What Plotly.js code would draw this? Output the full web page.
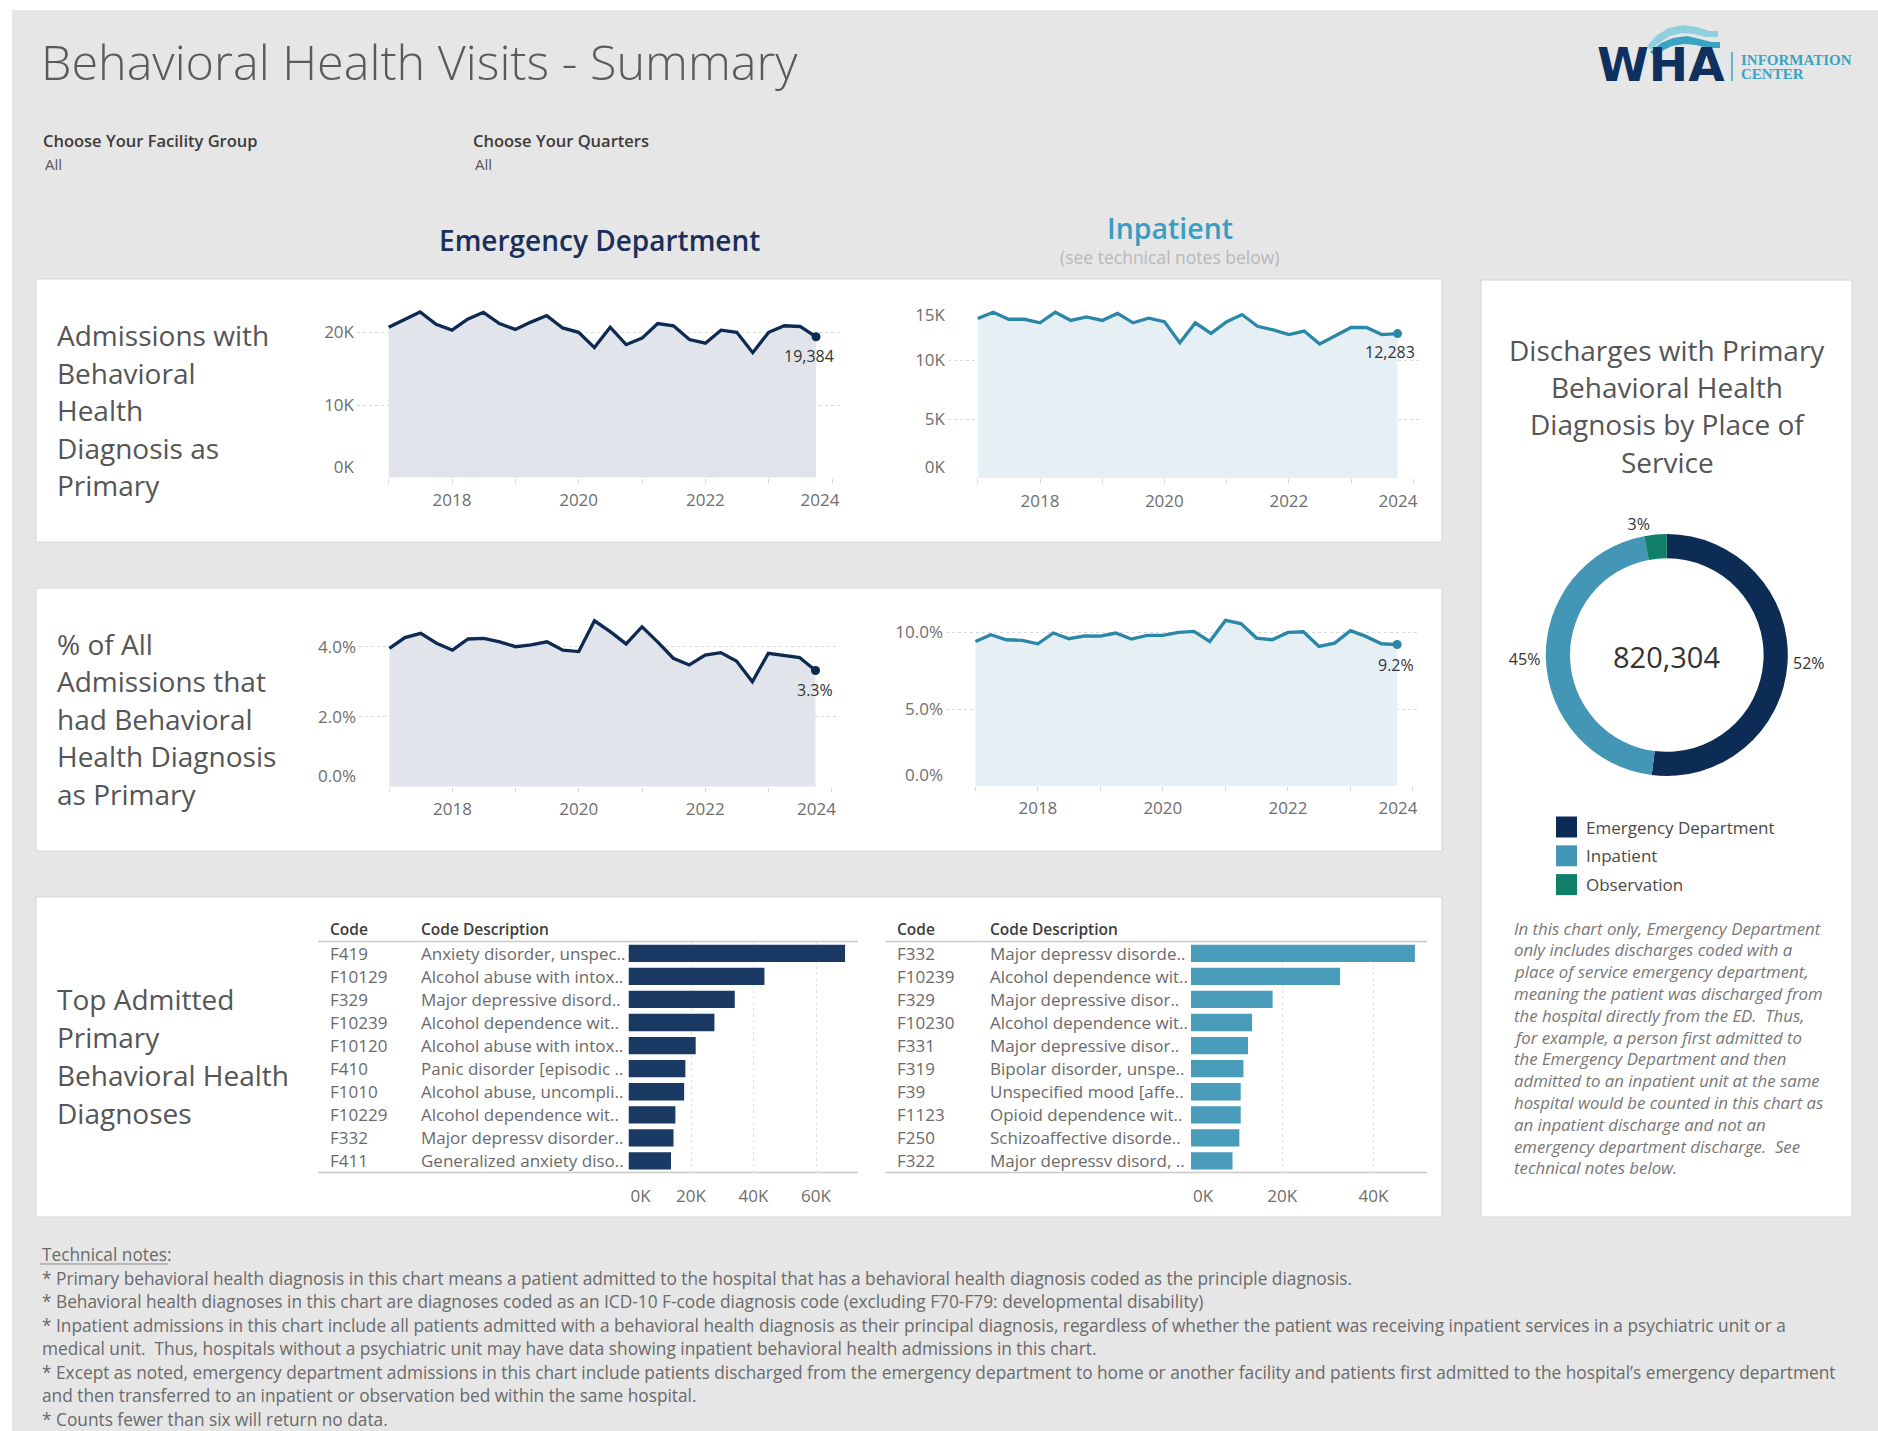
<!DOCTYPE html>
<html><head><meta charset="utf-8">
<script src="https://cdn.plot.ly/plotly-3.0.1.min.js"></script>
<style>html,body{margin:0;padding:0;background:#fff;}#chart{width:1878px;height:1431px;}</style>
</head><body><div id="chart"></div>
<script>
// ---------------- DATA ----------------
const quarters = ['2017-01-01','2017-04-01','2017-07-01','2017-10-01',
  '2018-01-01','2018-04-01','2018-07-01','2018-10-01',
  '2019-01-01','2019-04-01','2019-07-01','2019-10-01',
  '2020-01-01','2020-04-01','2020-07-01','2020-10-01',
  '2021-01-01','2021-04-01','2021-07-01','2021-10-01',
  '2022-01-01','2022-04-01','2022-07-01','2022-10-01',
  '2023-01-01','2023-04-01','2023-07-01','2023-10-01'];
const edAdmissions = [20700,21800,22800,21100,20300,21800,22750,21200,20400,21400,22300,20600,20000,17900,20700,18300,19200,21200,20900,19000,18500,20300,20000,17200,20000,20900,20800,19384];
const ipAdmissions = [13560,14100,13500,13500,13200,14100,13400,13700,13400,14000,13200,13600,13300,11500,13200,12300,13300,13900,12900,12600,12200,12500,11400,12100,12800,12800,12200,12283];
const edPct = [3.95,4.26,4.38,4.10,3.90,4.22,4.24,4.14,4.00,4.05,4.14,3.90,3.86,4.74,4.43,4.08,4.57,4.14,3.67,3.48,3.76,3.83,3.59,3.00,3.81,3.76,3.69,3.32];
const ipPct = [9.41,9.85,9.52,9.48,9.26,9.96,9.59,9.78,9.76,9.96,9.57,9.80,9.80,10.00,10.07,9.41,10.78,10.57,9.63,9.52,10.00,10.04,9.09,9.30,10.11,9.74,9.26,9.21];

const yearTicks = ['2018-01-01','2020-01-01','2022-01-01','2024-01-01'];
const yearTickLabels = ['2018','2020','2022','2024'];
const admTicksED = [0,10000,20000];
const admTickLabelsED = ['0K','10K','20K'];
const admTicksIP = [0,5000,10000,15000];
const admTickLabelsIP = ['0K','5K','10K','15K'];
const pctTicksED = [0,2,4];
const pctTickLabelsED = ['0.0%','2.0%','4.0%'];
const pctTicksIP = [0,5,10];
const pctTickLabelsIP = ['0.0%','5.0%','10.0%'];

const edCodes = ['F419','F10129','F329','F10239','F10120','F410','F1010','F10229','F332','F411'];
const edDescs = ['Anxiety disorder, unspec..','Alcohol abuse with intox..','Major depressive disord..','Alcohol dependence wit..','Alcohol abuse with intox..','Panic disorder [episodic ..','Alcohol abuse, uncompli..','Alcohol dependence wit..','Major depressv disorder..','Generalized anxiety diso..'];
const edCounts = [69300,43500,34000,27500,21500,18200,17800,15000,14400,13600];
const ipCodes = ['F332','F10239','F329','F10230','F331','F319','F39','F1123','F250','F322'];
const ipDescs = ['Major depressv disorde..','Alcohol dependence wit..','Major depressive disor..','Alcohol dependence wit..','Major depressive disor..','Bipolar disorder, unspe..','Unspecified mood [affe..','Opioid dependence wit..','Schizoaffective disorde..','Major depressv disord, ..'];
const ipCounts = [49100,32700,17900,13400,12500,11500,10900,10900,10600,9100];
const barTicksED = [0,20000,40000,60000];
const barTickLabelsED = ['0K','20K','40K','60K'];
const barTicksIP = [0,20000,40000];
const barTickLabelsIP = ['0K','20K','40K'];

const placeLabels = ['Emergency Department','Inpatient','Observation'];
const placeValues = [426500,369200,24604];
const placeColors = ['#0c2b55','#4496b7','#10806a'];

const panelLabels1 = ['Admissions with','Behavioral','Health','Diagnosis as','Primary'];
const panelLabels2 = ['% of All','Admissions that','had Behavioral','Health Diagnosis','as Primary'];
const panelLabels3 = ['Top Admitted','Primary','Behavioral Health','Diagnoses'];
const donutTitle = ['Discharges with Primary','Behavioral Health','Diagnosis by Place of','Service'];
const noteLines = ['In this chart only, Emergency Department','only includes discharges coded with a','place of service emergency department,','meaning the patient was discharged from','the hospital directly from the ED.  Thus,','for example, a person first admitted to','the Emergency Department and then','admitted to an inpatient unit at the same','hospital would be counted in this chart as','an inpatient discharge and not an','emergency department discharge.  See','technical notes below.'];
const techLines = ['* Primary behavioral health diagnosis in this chart means a patient admitted to the hospital that has a behavioral health diagnosis coded as the principle diagnosis.',
 '* Behavioral health diagnoses in this chart are diagnoses coded as an ICD-10 F-code diagnosis code (excluding F70-F79: developmental disability)',
 '* Inpatient admissions in this chart include all patients admitted with a behavioral health diagnosis as their principal diagnosis, regardless of whether the patient was receiving inpatient services in a psychiatric unit or a',
 'medical unit.  Thus, hospitals without a psychiatric unit may have data showing inpatient behavioral health admissions in this chart.',
 "* Except as noted, emergency department admissions in this chart include patients discharged from the emergency department to home or another facility and patients first admitted to the hospital\u2019s emergency department",
 'and then transferred to an inpatient or observation bed within the same hospital.',
 '* Counts fewer than six will return no data.'];

// ---------------- LAYOUT HELPERS ----------------
const W = 1878, H = 1431;
const fx = p => p / W;
const fy = p => 1 - p / H;
const FONT = "'Open Sans', 'DejaVu Sans', sans-serif";
const annotations = [];
const shapes = [];
function txt(x, y, text, size, color, opts) {
  opts = opts || {};
  annotations.push({xref:'paper', yref:'paper', x:fx(x), y:fy(y), text:text, showarrow:false,
    xanchor:opts.anchor || 'left', yanchor:'middle',
    font:{family:opts.family || FONT, size:size, color:color, weight:opts.weight || 400, style:opts.style || 'normal'}});
}
function rect(x0, y0, x1, y1, fill, line) {
  shapes.push({type:'rect', xref:'paper', yref:'paper', x0:fx(x0), x1:fx(x1), y0:fy(y1), y1:fy(y0),
    fillcolor:fill, line:line ? {color:line, width:1} : {width:0}, layer:'below'});
}
function hline(x0, x1, y, color, w) {
  shapes.push({type:'line', xref:'paper', yref:'paper', x0:fx(x0), x1:fx(x1), y0:fy(y), y1:fy(y), line:{color:color, width:w}, layer:'below'});
}
function poly(pts, color) {
  const d = pts.map((p, i) => (i ? 'L' : 'M') + fx(p[0]).toFixed(5) + ',' + fy(p[1]).toFixed(5)).join(' ') + ' Z';
  shapes.push({type:'path', xref:'paper', yref:'paper', path:d, fillcolor:color, line:{width:0}, layer:'above'});
}

// background & panels
rect(12, 10, W, H, '#e6e6e6');
rect(36, 279, 1442, 542, '#ffffff', '#d5d5d5');
rect(36, 588, 1442, 851, '#ffffff', '#d5d5d5');
rect(36, 897, 1442, 1217, '#ffffff', '#d5d5d5');
rect(1481, 280, 1852, 1217, '#ffffff', '#d5d5d5');

// header texts
txt(39, 61, 'Behavioral Health Visits - Summary', 48.5, '#5a5a5a', {weight:300});
txt(41, 140, 'Choose Your Facility Group', 16.5, '#3c3c3c', {weight:600});
txt(43, 164, 'All', 15, '#555');
txt(471, 140, 'Choose Your Quarters', 16.5, '#3c3c3c', {weight:600});
txt(473, 164, 'All', 15, '#555');
txt(599, 240, 'Emergency Department', 28, '#1b2f5b', {anchor:'center', weight:600});
txt(1170, 228, 'Inpatient', 28.5, '#3a9cc2', {anchor:'center', weight:600});
txt(1170, 257, '(see technical notes below)', 17.5, '#b8b8b8', {anchor:'center'});

// logo
poly([[1647,46],[1657,35],[1669,28],[1683,25],[1697,27],[1709,31],[1718,31],[1718,37],[1706,37],[1694,34],[1682,33],[1670,36],[1659,43],[1651,50]], '#8fd0de');
poly([[1650,52],[1661,43],[1673,38],[1687,36],[1700,39],[1711,42],[1720,42],[1720,48],[1708,48],[1696,45],[1684,44],[1672,46],[1662,51],[1655,56]], '#3aa3c4');
txt(1595, 64, 'WHA', 47, '#0f2f5f', {family:"'DejaVu Sans', sans-serif", weight:700});
shapes.push({type:'line', xref:'paper', yref:'paper', x0:fx(1732), x1:fx(1732), y0:fy(52), y1:fy(81), line:{color:'#3aa3c4', width:1.5}, layer:'above'});
txt(1739, 60, 'INFORMATION', 15, '#3aa3c4', {family:"'Liberation Serif', serif", weight:700});
txt(1739, 74, 'CENTER', 15, '#3aa3c4', {family:"'Liberation Serif', serif", weight:700});

// panel labels
panelLabels1.forEach((t, i) => txt(55, 335 + 37.6 * i, t, 28, '#555'));
panelLabels2.forEach((t, i) => txt(55, 643.5 + 37.6 * i, t, 28, '#555'));
panelLabels3.forEach((t, i) => txt(55, 999 + 38 * i, t, 28, '#555'));
donutTitle.forEach((t, i) => txt(1667, 350 + 37.2 * i, t, 28, '#555', {anchor:'center'}));

// ---------------- LINE CHARTS ----------------
const data = [];
const layout = {width:W, height:H, margin:{l:0, r:0, t:0, b:0}, paper_bgcolor:'#ffffff', plot_bgcolor:'rgba(0,0,0,0)',
  showlegend:false, font:{family:FONT, color:'#555'}, shapes:shapes, annotations:annotations};

const lineCharts = [
  {n:1, vals:edAdmissions, color:'#0f2a50', fill:'#e1e5eb', gridL:357, gridR:841, p2018:452, p2024:832, top:292, zero:477.7, ppu:72.7/10000, tv:admTicksED, tt:admTickLabelsED, fmt:v => v.toLocaleString('en-US'), xs:-7, ys:-19},
  {n:2, vals:ipAdmissions, color:'#2a87a8', fill:'#e6eff4', gridL:948, gridR:1419, p2018:1040, p2024:1413.2, top:301.5, zero:478.3, ppu:58.9/5000, tv:admTicksIP, tt:admTickLabelsIP, fmt:v => v.toLocaleString('en-US'), xs:-8, ys:-18},
  {n:3, vals:edPct, color:'#0f2a50', fill:'#e1e5eb', gridL:359, gridR:837.5, p2018:452.5, p2024:831.4, top:603, zero:786.7, ppu:35, tv:pctTicksED, tt:pctTickLabelsED, fmt:v => v.toFixed(1) + '%', xs:0, ys:-19},
  {n:4, vals:ipPct, color:'#2a87a8', fill:'#e6eff4', gridL:946, gridR:1419, p2018:1037.9, p2024:1412.9, top:603, zero:786, ppu:15.36, tv:pctTicksIP, tt:pctTickLabelsIP, fmt:v => v.toFixed(1) + '%', xs:-1, ys:-20}
];
const tickFont = {family:FONT, size:17, color:'#6e6e6e'};
const toStr = ms => new Date(ms).toISOString().replace('T', ' ').slice(0, 19);
lineCharts.forEach(c => {
  const sfx = c.n === 1 ? '' : String(c.n);
  const xa = 'x' + sfx, ya = 'y' + sfx;
  const t0 = Date.UTC(2018, 0, 1), t1 = Date.UTC(2024, 0, 1);
  const k = (t1 - t0) / (c.p2024 - c.p2018);
  const dateOfPx = p => t0 + (p - c.p2018) * k;
  const pxOfDate = ms => c.p2018 + (ms - t0) / k;
  // tick labels are kept inside the pane (as the original tool does); marks/grids stay on true values
  const xLabelVals = yearTicks.map(s => toStr(dateOfPx(Math.min(pxOfDate(Date.parse(s)), c.gridR - 21)) + 1000));
  const ymax = (c.zero - c.top) / c.ppu;
  const yLabelVals = c.tv.map(v => {
    let p = c.zero - v * c.ppu;
    p = Math.max(Math.min(p, c.zero - 11), c.top + 14);
    return (c.zero - p) / c.ppu + ymax * 1e-6;
  });
  layout['xaxis' + sfx] = {type:'date', domain:[fx(c.gridL), fx(c.gridR)],
    range:[toStr(dateOfPx(c.gridL)), toStr(dateOfPx(c.gridR))],
    anchor:ya, tickmode:'array', tickvals:xLabelVals, ticktext:yearTickLabels, ticks:'outside', ticklen:4, tickcolor:'rgba(0,0,0,0)',
    minor:{dtick:'M12', tick0:'2017-01-01', ticks:'outside', ticklen:4, tickcolor:'#d6d6d6', showgrid:false},
    showgrid:false, zeroline:false, showline:false, tickfont:tickFont, ticklabelstandoff:3, fixedrange:true};
  layout['yaxis' + sfx] = {domain:[fy(c.zero), fy(c.top)], range:[0, ymax], anchor:xa,
    tickmode:'array', tickvals:yLabelVals, ticktext:c.tt, showgrid:false,
    minor:{tickmode:'array', tickvals:c.tv, showgrid:true, gridcolor:'#d9d9d9', griddash:'dot', gridwidth:1, ticks:''},
    zeroline:false, showline:false, ticks:'', tickfont:tickFont, ticklabelstandoff:2, fixedrange:true};
  data.push({type:'scatter', mode:'lines', x:quarters, y:c.vals, xaxis:xa, yaxis:ya,
    line:{color:c.color, width:3.3}, fill:'tozeroy', fillcolor:c.fill, hoverinfo:'none'});
  const lastX = quarters[quarters.length - 1], lastY = c.vals[c.vals.length - 1];
  data.push({type:'scatter', mode:'markers', x:[lastX], y:[lastY], xaxis:xa, yaxis:ya,
    marker:{color:c.color, size:9}, hoverinfo:'none'});
  annotations.push({xref:xa, yref:ya, x:lastX, y:lastY, text:c.fmt(lastY), showarrow:false,
    xanchor:'center', yanchor:'middle', xshift:c.xs, yshift:c.ys, font:{family:FONT, size:16, color:'#333'}});
});

// ---------------- BAR TABLES ----------------
const barCharts = [
  {n:5, codes:edCodes, descs:edDescs, counts:edCounts, color:'#1a3a63', zero:628.5, right:858, px20k:62.5, lineL:318, codeX:327.7, descX:419, tv:barTicksED, tt:barTickLabelsED},
  {n:6, codes:ipCodes, descs:ipDescs, counts:ipCounts, color:'#4a9cbb', zero:1191, right:1427, px20k:91.2, lineL:885.5, codeX:895, descX:987.6, tv:barTicksIP, tt:barTickLabelsIP}
];
barCharts.forEach(b => {
  const xa = 'x' + b.n, ya = 'y' + b.n;
  const labelVals = b.tv.map(v => {
    const p = Math.max(b.zero + v / 20000 * b.px20k, b.zero + 12);
    return (p - b.zero) / b.px20k * 20000 + 1;
  });
  layout['xaxis' + b.n] = {domain:[fx(b.zero), fx(b.right)], range:[0, (b.right - b.zero) / b.px20k * 20000], anchor:ya,
    tickmode:'array', tickvals:labelVals, ticktext:b.tt, showgrid:false,
    minor:{tickmode:'array', tickvals:b.tv, showgrid:true, gridcolor:'#e2e2e2', griddash:'dot', ticks:''},
    zeroline:false, showline:false,
    ticks:'outside', ticklen:8, tickcolor:'rgba(0,0,0,0)', tickfont:tickFont, fixedrange:true};
  layout['yaxis' + b.n] = {domain:[fy(1172.5), fy(941.75)], type:'category', categoryorder:'array', categoryarray:b.codes,
    range:[b.codes.length - 0.5, -0.5], showticklabels:false, showgrid:false, zeroline:false, showline:false, anchor:xa, fixedrange:true};
  data.push({type:'bar', orientation:'h', x:b.counts, y:b.codes, xaxis:xa, yaxis:ya, width:0.75,
    marker:{color:b.color, line:{width:0}}, hoverinfo:'none'});
  hline(b.lineL, b.right, 941.5, '#c9c9c9', 1.5);
  hline(b.lineL, b.right, 1172.5, '#c9c9c9', 1.5);
  txt(b.codeX, 929, 'Code', 15.5, '#3c3c3c', {weight:600});
  txt(b.descX, 929, 'Code Description', 15.5, '#3c3c3c', {weight:600});
  b.codes.forEach((c, i) => {
    annotations.push({xref:'paper', yref:ya, x:fx(b.codeX), y:c, text:c, showarrow:false, xanchor:'left', yanchor:'middle',
      font:{family:FONT, size:17, color:'#6a6a6a'}});
    annotations.push({xref:'paper', yref:ya, x:fx(b.descX), y:c, text:b.descs[i], showarrow:false, xanchor:'left', yanchor:'middle',
      font:{family:FONT, size:17, color:'#6a6a6a'}});
  });
});

// ---------------- DONUT ----------------
data.push({type:'pie', labels:placeLabels, values:placeValues, marker:{colors:placeColors, line:{width:0}},
  hole:0.8, sort:false, direction:'clockwise', rotation:0,
  domain:{x:[fx(1545.8), fx(1787.8)], y:[fy(776), fy(534)]},
  textposition:'outside', texttemplate:'%{percent:.0%}', textfont:{family:FONT, size:16, color:'#333'},
  showlegend:false, hoverinfo:'none', automargin:false});
const total = placeValues.reduce((a, b) => a + b, 0);
txt(1666, 656, total.toLocaleString('en-US'), 29, '#333', {anchor:'center'});
// legend swatches
placeLabels.forEach((l, i) => {
  const cy = 827 + 28.8 * i;
  shapes.push({type:'rect', xref:'paper', yref:'paper', x0:fx(1556), x1:fx(1577), y0:fy(cy + 10.5), y1:fy(cy - 10.5),
    fillcolor:placeColors[i], line:{width:0}, layer:'above'});
  txt(1584, cy, l, 17, '#4a4a4a');
});
noteLines.forEach((t, i) => txt(1512, 928 + 21.8 * i, t, 16.8, '#777', {style:'italic'}));

// ---------------- TECHNICAL NOTES ----------------
txt(40, 1254, 'Technical notes:', 17.3, '#6a6a6a');
hline(40, 168, 1264, '#8a8a8a', 1);
techLines.forEach((t, i) => txt(40, 1278 + 23.5 * i, t, 17.3, '#6a6a6a'));

Plotly.newPlot('chart', data, layout, {displayModeBar:false, staticPlot:true});
</script>
</body></html>
